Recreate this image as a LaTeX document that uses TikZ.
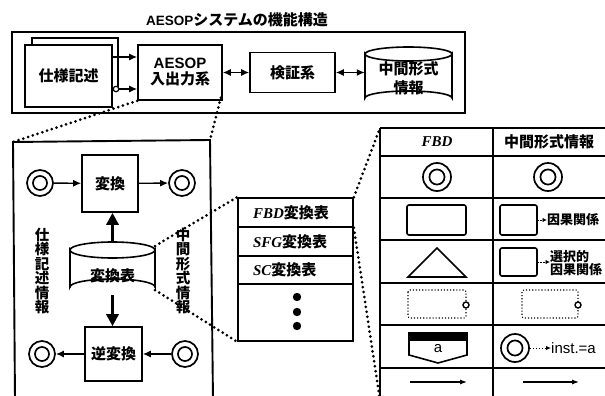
\documentclass[tikz,border=0pt]{standalone}
\usepackage{fontspec}
\newfontfamily\jp{Noto Sans CJK JP}
\newfontfamily\ser{Liberation Serif}
\newfontfamily\lsans{Liberation Sans}
\usetikzlibrary{arrows.meta}
\newcommand\jpf[1]{\jp\bfseries\fontsize{#1}{#1}\selectfont}
\newcommand\fbdf{\ser\bfseries\itshape}
\begin{document}
\begin{tikzpicture}[x=1pt,y=-1pt,
  box/.style={draw, line width=1.6pt, fill=white, inner sep=0pt, align=center, font=\jpf{15}},
  cylnode/.style={inner sep=0pt, align=center, font=\jpf{15}},
  dotl/.style={line width=3pt, line cap=round, dash pattern=on 0pt off 5pt},
  dcirc/.style={circle, draw, line width=1.7pt, minimum size=#1, inner sep=0pt, fill=white,
     path picture={\draw[line width=1.7pt] (path picture bounding box.center) circle (0.27*#1);}},
  dcirc/.default=26pt,
  arr/.style={line width=1.4pt, -{Latex[length=8pt,width=7pt]}},
  darr/.style={line width=1.4pt, {Latex[length=8pt,width=7pt]}-{Latex[length=8pt,width=7pt]}},
  bigarr/.style={line width=3.2pt, -{Triangle[length=12pt,width=12pt]}},
  smallarr/.style={line width=0.9pt, dash pattern=on 1.6pt off 1pt, -{Latex[length=4.5pt,width=4.5pt]}},
  gridl/.style={line width=1.5pt},
  tabtxt/.style={inner sep=0pt, font=\jpf{13}, align=left}
]
\useasboundingbox (0,0) rectangle (605,396);

% ---------- title and top box ----------
\node[font=\jpf{15}] (title) at (237,20) {{\lsans\bfseries\fontsize{13.5}{15}\selectfont AESOP}システムの機能構造};
\node[draw, line width=2.1pt, minimum width=453pt, minimum height=81pt, inner sep=0pt] (topbox) at (238.5,72.5) {};

\node[box, minimum width=86pt, minimum height=52pt] (specback) at (75,64) {};
\node[box, minimum width=87pt, minimum height=62pt] (spec) at (68.5,76) {仕様記述};
\node[box, minimum width=84pt, minimum height=55pt] (aesop) at (180,72.5)
  {{\lsans\bfseries\fontsize{15}{17}\selectfont AESOP}\\[1pt]入出力系};
\node[box, minimum width=85pt, minimum height=40pt] (kensho) at (292.5,72.5) {検証系};
\node[cylnode, minimum width=87pt, minimum height=58pt] (midinfo) at (408.5,78) {};
\draw[line width=1.6pt, fill=white] (365,54) -- (365,98) arc (180:360:43.5 and 7) -- (452,54) arc (0:180:43.5 and 7) -- cycle;
\draw[line width=1.6pt] (365,54) arc (180:360:43.5 and 7);
\node[cylnode] at (midinfo) {中間形式\\[4pt]情報};

\node[circle, draw, fill=white, line width=1.2pt, minimum size=5.5pt, inner sep=0pt] (sc) at (116,89) {};
\coordinate (y57) at (0,57);
\draw[arr] (spec.east |- y57) -- (aesop.west |- y57);
\draw[arr] (sc) -- (sc -| aesop.west);
\draw[darr] (aesop.east) -- (kensho.west);
\draw[darr] (kensho.east) -- (kensho.east -| midinfo.west);

% ---------- lower left panel ----------
\coordinate (ptl) at (13,142);
\coordinate (ptr) at (210,140);
\coordinate (pbl) at (15,400);
\coordinate (pbr) at (213,400);
\draw[line width=1.9pt] (pbl) -- (ptl) -- (ptr) -- (pbr);
\draw[dotl] (aesop.south west) -- (ptl);
\draw[dotl] ([xshift=-2pt,yshift=3pt]aesop.south east) -- (ptr);

\node[box, minimum width=56pt, minimum height=57pt] (henkan) at (110,183.5) {変換};
\node[box, minimum width=57pt, minimum height=54pt] (gyaku) at (113.5,354) {逆変換};
\node[dcirc] (c1) at (40,183) {};
\node[dcirc] (c2) at (182,183) {};
\node[dcirc] (c3) at (42,354) {};
\node[dcirc] (c4) at (185,354) {};
\draw[arr] (c1) -- (henkan);
\draw[arr] (henkan) -- (c2);
\draw[arr] (c4) -- (gyaku);
\draw[arr] (gyaku) -- (c3);

\node[cylnode, minimum width=85pt, minimum height=53pt] (table) at (112.5,268.5) {};
\draw[line width=1.6pt, fill=white] (70,250) -- (70,287) arc (180:360:42.5 and 8) -- (155,250) arc (0:180:42.5 and 8) -- cycle;
\draw[line width=1.6pt] (70,250) arc (180:360:42.5 and 8);
\node[cylnode] at (112.5,276) {変換表};
\coordinate (tabtop) at (112.5,242);
\coordinate (tabbot) at (112.5,295);
\draw[bigarr] (tabtop) -- (tabtop |- henkan.south);
\draw[bigarr] (tabbot) -- (tabbot |- gyaku.north);

\node[font=\jpf{14.5}, align=center, inner sep=0pt] (ltext) at (42,271)
  {\baselineskip=19.5pt 仕\\様\\記\\述\\情\\報};
\node[font=\jpf{14.5}, align=center, inner sep=0pt] (rtext) at (183,271)
  {\baselineskip=19.5pt 中\\間\\形\\式\\情\\報};

% ---------- small table ----------
\tikzset{srow/.style={draw, line width=1.6pt, fill=white, minimum width=115pt, minimum height=#1, inner xsep=15pt, text width=85pt, align=left, inner ysep=0pt, font=\jpf{15}}}
\node[srow=29pt] (r1) at (295.5,212.5) {{\fbdf\fontsize{15}{15}\selectfont FBD}変換表};
\node[srow=29pt] (r2) at (295.5,241.5) {{\fbdf\fontsize{15}{15}\selectfont SFG}変換表};
\node[srow=28pt] (r3) at (295.5,270) {{\fbdf\fontsize{15}{15}\selectfont SC}変換表};
\node[srow=57pt] (r4) at (295.5,312.5) {};
\fill (297,297) circle (4.2pt);
\fill (297,312) circle (4.2pt);
\fill (297,326) circle (4.2pt);

\coordinate (cylA) at (155,246);
\coordinate (cylB) at (155,290);
\draw[dotl] (cylA) -- (r1.north west);
\draw[dotl] (cylB) -- (r4.south west);

% ---------- big table ----------
\coordinate (btl) at (380,128);
\coordinate (bbl) at (380,400);
\draw[dotl] (r1.north east) -- (btl);
\draw[dotl] (r1.south east) -- (bbl);
\draw[line width=2pt] (btl) -- (bbl);
\draw[line width=2pt] (493,128) -- (493,400);
\foreach \yy in {128,156,198,240,283,325,368}
  \draw[gridl] (380,\yy) -- (612,\yy);

\node[font=\fbdf\fontsize{15}{15}\selectfont] (hfbd) at (437,142) {FBD};
\node[font=\jpf{15}] (hmid) at (549,142) {中間形式情報};

% row 1
\node[dcirc=28pt] (b1l) at (437,177) {};
\node[dcirc=28pt] (b1r) at (548,177) {};
% row 2
\node[draw, line width=1.6pt, rounded corners=2pt, minimum width=59pt, minimum height=30pt] (b2l) at (436.5,220) {};
\node[draw, line width=1.6pt, rounded corners=2pt, minimum width=37pt, minimum height=30pt] (b2r) at (518.5,220) {};
\node[tabtxt, anchor=west] (t2) at (547,220) {因果関係};
\draw[smallarr] (b2r) -- (t2);
% row 3
\draw[line width=1.6pt] (408,277) -- (437,248) -- (466,277) -- cycle;
\node[draw, line width=1.6pt, rounded corners=2pt, minimum width=37pt, minimum height=28pt] (b3r) at (518.5,262) {};
\node[tabtxt, anchor=west] (t3) at (550,263.5) {\baselineskip=13pt 選択的\\因果関係};
\draw[smallarr] (b3r.east) -- (b3r.east -| t3.west);
% row 4
\draw[line width=1.1pt, dotted, rounded corners=2pt] (408,290) rectangle (466,318);
\draw[line width=1.4pt, fill=white] (466,305) circle (3pt);
\draw[line width=1.1pt, dotted, rounded corners=2pt] (522,290) rectangle (578,318);
\draw[line width=1.4pt, fill=white] (578,305) circle (3pt);
% row 5
\fill (409,333) rectangle (467,341);
\draw[line width=1.6pt] (409,333) -- (409,355) -- (438,363) -- (467,355) -- (467,333) -- cycle;
\node[font=\lsans\fontsize{15}{15}\selectfont, inner sep=0pt] (alab) at (438,349) {a};
\node[dcirc=28pt] (b5r) at (515,348) {};
\node[font=\lsans\fontsize{15}{15}\selectfont, inner sep=0pt, anchor=west] (inst) at (551,348) {inst.=a};
\draw[line width=1pt, dotted, -{Latex[length=5pt,width=4.5pt]}] (b5r) -- (inst);
% row 6
\coordinate (a6a) at (410,382);
\coordinate (a6b) at (467,382);
\coordinate (a6c) at (523,382);
\coordinate (a6d) at (579,382);
\draw[line width=1.1pt, -{Latex[length=7pt,width=5pt]}] (a6a) -- (a6b);
\draw[line width=1.1pt, -{Latex[length=7pt,width=5pt]}] (a6c) -- (a6d);
\end{tikzpicture}
\end{document}
